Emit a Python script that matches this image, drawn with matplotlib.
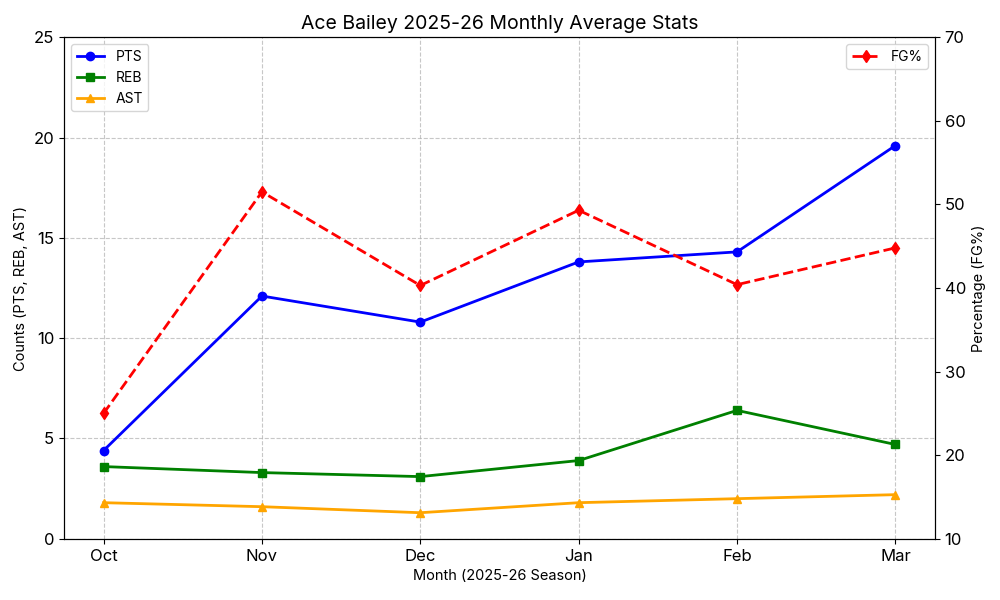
import matplotlib
matplotlib.use("Agg")
from matplotlib import pyplot as plt

plt.rcParams['font.family'] = ['Inter', 'DejaVu Sans']

months = ["Oct", "Nov", "Dec", "Jan", "Feb", "Mar"]
pts = [4.4, 12.1, 10.8, 13.8, 14.3, 19.6]
reb = [3.6, 3.3, 3.1, 3.9, 6.4, 4.7]
ast = [1.8, 1.6, 1.3, 1.8, 2.0, 2.2]
fg_pct = [25.0, 51.5, 40.3, 49.3, 40.4, 44.8]

fig, ax1 = plt.subplots(figsize=(10, 6), dpi=100)

ax1.plot(months, pts, marker="o", color="blue", linewidth=2, label="PTS")
ax1.plot(months, reb, marker="s", color="green", linewidth=2, label="REB")
ax1.plot(months, ast, marker="^", color="orange", linewidth=2, label="AST")
ax1.set_ylim(0, 25)
ax1.set_xlabel("Month (2025-26 Season)", fontsize=10.5)
ax1.set_ylabel("Counts (PTS, REB, AST)", fontsize=10.5)
ax1.tick_params(axis="both", labelsize=12)
ax1.grid(True, linestyle="--", alpha=0.7)
ax1.legend(loc="upper left", fontsize=10)

ax2 = ax1.twinx()
ax2.plot(months, fg_pct, marker="d", color="red", linestyle="--", linewidth=2, label="FG%")
ax2.set_ylim(10, 70)
ax2.set_ylabel("Percentage (FG%)", fontsize=10.5)
ax2.tick_params(axis="y", labelsize=12)
ax2.legend(loc="upper right", fontsize=10)

ax1.set_title("Ace Bailey 2025-26 Monthly Average Stats", fontsize=14)
fig.subplots_adjust(left=0.064, right=0.935, top=0.938, bottom=0.102)
fig.savefig("out.png")
